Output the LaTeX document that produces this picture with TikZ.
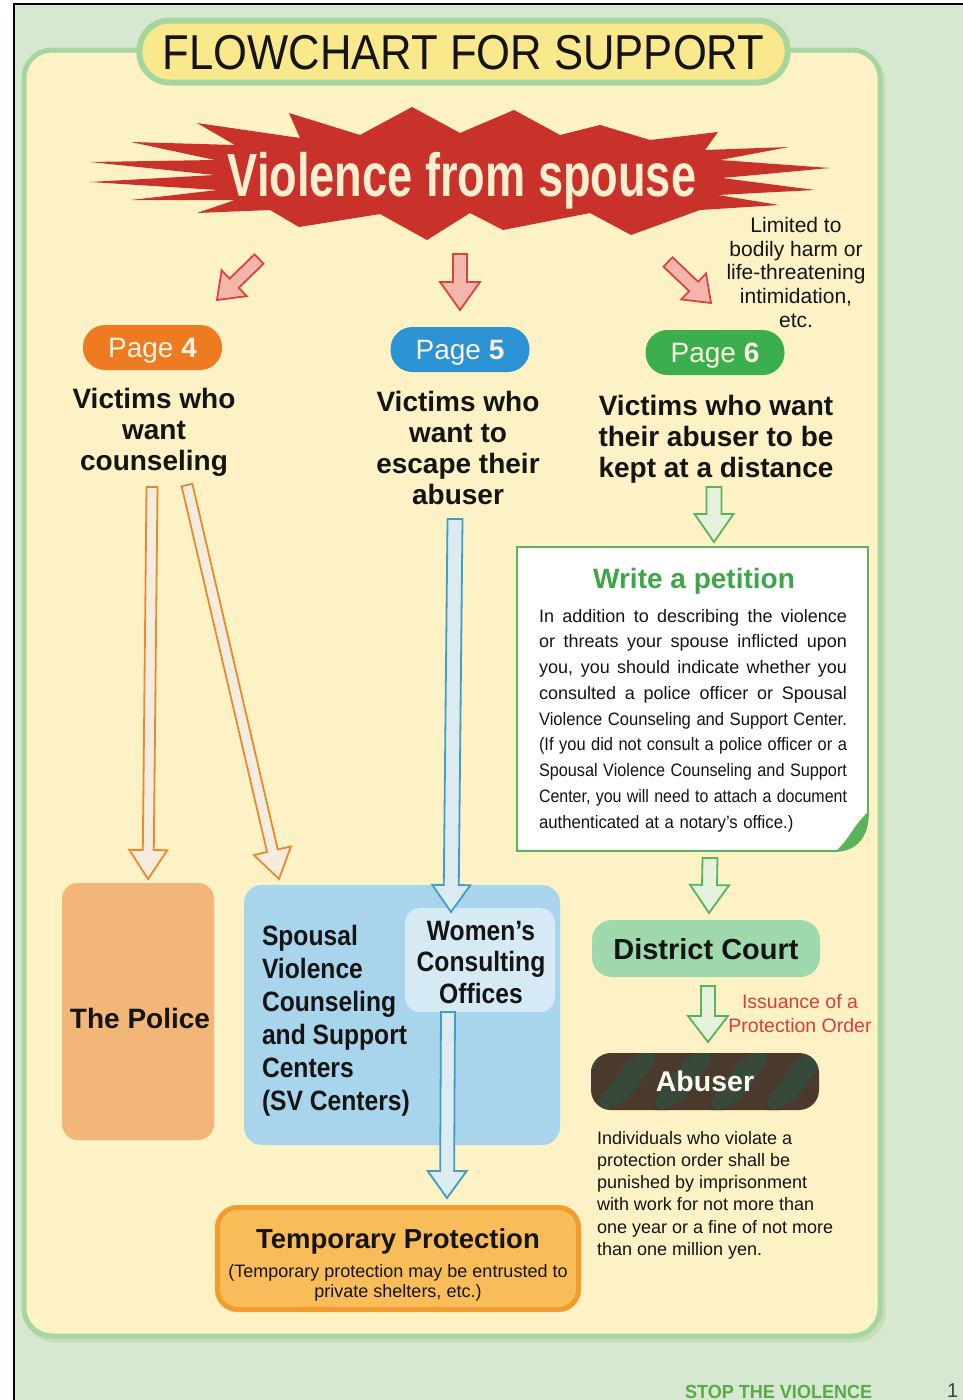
\documentclass[tikz,border=0pt]{standalone}
\usepackage{fontspec}
\usepackage{graphicx}
\setmainfont{Liberation Sans}
\newfontfamily\condfont[FakeStretch=0.88]{Liberation Sans}
\usetikzlibrary{calc}

\definecolor{pagebg}{HTML}{D7E8D1}
\definecolor{panelbg}{HTML}{FCF2C5}
\definecolor{panelline}{HTML}{A6D59E}
\definecolor{panelshadow}{HTML}{C4DEBA}
\definecolor{titlebg}{HTML}{FAE98C}
\definecolor{burst}{HTML}{C9312B}
\definecolor{bursttext}{HTML}{FCEFCF}
\definecolor{pinkfill}{HTML}{F2B6AB}
\definecolor{pinkline}{HTML}{D9463F}
\definecolor{pfour}{HTML}{EE7B22}
\definecolor{pfive}{HTML}{2B93D3}
\definecolor{psix}{HTML}{3BAF4E}
\definecolor{pilltext}{HTML}{FDF3E2}
\definecolor{orline}{HTML}{E98A2C}
\definecolor{orfill}{HTML}{F4ECDF}
\definecolor{blline}{HTML}{3F9DC6}
\definecolor{blfill}{HTML}{DCEBF0}
\definecolor{grline}{HTML}{58B45A}
\definecolor{grfill}{HTML}{E6F1DC}
\definecolor{police}{HTML}{F2B679}
\definecolor{svblue}{HTML}{A9D5EC}
\definecolor{women}{HTML}{D5EAF4}
\definecolor{tempfill}{HTML}{F8BC58}
\definecolor{templine}{HTML}{F29C2F}
\definecolor{court}{HTML}{9ED8AC}
\definecolor{abuserA}{HTML}{4A3A2B}
\definecolor{abuserB}{HTML}{36493A}
\definecolor{petgreen}{HTML}{3DA647}
\definecolor{issred}{HTML}{E2393A}
\definecolor{footgreen}{HTML}{5AAA49}
\definecolor{ink}{HTML}{141414}

\newlength\jlw
\newcommand\jline[2][308pt]{\leavevmode\settowidth\jlw{#2}\ifdim\jlw<#1\relax
  \hbox to #1{\spaceskip=\fontdimen2\font plus 1fil\relax #2}\else\resizebox{#1}{\height}{#2}\fi}

% block arrow: style, start, tip, shaft half width, head half width, head length
\newcommand\barrow[6]{%
  \coordinate (bh) at ($(#3)!#6!(#2)$);
  \path[#1] ($(#2)!#4!-90:(#3)$) -- ($(bh)!#4!90:(#2)$) -- ($(bh)!#5!90:(#2)$) -- (#3)
    -- ($(bh)!#5!-90:(#2)$) -- ($(bh)!#4!-90:(#2)$) -- ($(#2)!#4!90:(#3)$) -- cycle;}

\tikzset{
  txt/.style={inner sep=0pt, outer sep=0pt, text=ink},
  head/.style={txt, align=center, font=\fontsize{28}{31}\selectfont\bfseries},
  pill/.style={rounded corners=22, minimum width=139, minimum height=45, inner sep=0pt,
     text=pilltext, font=\fontsize{28}{28}\selectfont, text height=20pt, text depth=0pt},
  pinkarrow/.style={fill=pinkfill, draw=pinkline, line width=1.8, line join=miter},
  orarrow/.style={fill=orfill, draw=orline, line width=1.8, line join=miter},
  blarrow/.style={fill=blfill, draw=blline, line width=1.8, line join=miter},
  grarrow/.style={fill=grfill, draw=grline, line width=1.8, line join=miter},
  boxtxt/.style={txt, font=\fontsize{28}{28}\selectfont\bfseries, text height=20pt, text depth=0pt},
}

\begin{document}
\begin{tikzpicture}[x=1pt,y=-1pt]
\useasboundingbox (0,0) rectangle (963,1400);
% page
\fill[white] (0,0) rectangle (963,1400);
\fill[pagebg] (14,4) rectangle (963,1400);
\draw[line width=1.5] (14,1400) -- (14,4) -- (963,4);
% panel
\draw[panelshadow, line width=5, rounded corners=28] (27,54) rectangle (883,1340);
\draw[panelline, line width=5, fill=panelbg, rounded corners=28] (24,50) rectangle (880,1336);

% title
\node[fill=titlebg, draw=panelline, line width=6, rounded corners=30, minimum width=648, minimum height=62,
      inner sep=0pt, text height=35pt, text depth=0pt, font=\fontsize{49}{49}\selectfont, text=ink]
  (title) at (463.5,51.5) {\scalebox{0.89}[1]{FLOWCHART FOR SUPPORT}};

% starburst
\fill[burst] (90,162) -- (215,160) -- (131,142) -- (235,145) -- (197,123) -- (300,138) -- (289,113)
  -- (360,135) -- (412,107) -- (460,133) -- (514,110) -- (560,135) -- (600,125) -- (650,140)
  -- (718,132) -- (705,150) -- (789,147) -- (720,160) -- (830,168) -- (722,178) -- (815,190)
  -- (718,195) -- (779,205) -- (700,210) -- (631,235) -- (590,213) -- (503,230) -- (470,213)
  -- (427,240) -- (380,214) -- (299,227) -- (270,210) -- (197,213) -- (235,200) -- (131,200)
  -- (218,190) -- (90,182) -- (215,175) -- cycle;
\node[txt, anchor=base, text=bursttext, font=\fontsize{61}{61}\selectfont\bfseries] (burst) at (462,196)
  {\scalebox{0.74}[1]{Violence from spouse}};

\node[txt, anchor=north, align=center, font=\fontsize{21}{23.8}\selectfont] (limit) at (796,217)
  {Limited to\\bodily harm or\\life-threatening\\intimidation,\\etc.};

% pink arrows
\coordinate (pa1) at (259,259); \coordinate (pb1) at (217,300);
\coordinate (pa2) at (460,254); \coordinate (pb2) at (460,310);
\coordinate (pa3) at (668,262); \coordinate (pb3) at (711,303);
\barrow{pinkarrow}{pa1}{pb1}{6.5pt}{18pt}{24pt}
\barrow{pinkarrow}{pa2}{pb2}{7pt}{20pt}{28pt}
\barrow{pinkarrow}{pa3}{pb3}{6.5pt}{18pt}{24pt}

% page pills
\node[pill, fill=pfour] (p4) at (152.5,347.5) {Page \textbf{4}};
\node[pill, fill=pfive] (p5) at (460,349.5) {Page \textbf{5}};
\node[pill, fill=psix] (p6) at (715,352.5) {Page \textbf{6}};

% headings
\node[head, anchor=north] (h4) at (154,388) {Victims who\\want\\counseling};
\node[head, anchor=north] (h5) at (458,391) {Victims who\\want to\\escape their\\abuser};
\node[head, anchor=north] (h6) at (716,395) {Victims who want\\their abuser to be\\kept at a distance};

% petition box
\path[fill=white, draw=grline, line width=1.8] (517,547) -- (868,547) -- (868,812)
   .. controls (868,835) and (858,850) .. (836,851) -- (517,851) -- cycle;
\fill[grline] (868,812) .. controls (868,835) and (858,850) .. (836,851)
   .. controls (848,841) and (853,826) .. (868,812) -- cycle;
\node[txt, anchor=base, text=petgreen, font=\fontsize{28}{28}\selectfont\bfseries] (pettitle) at (694,588) {Write a petition};
\node[txt, anchor=north west, text width=308pt, align=left, font=\fontsize{18}{25.75}\selectfont] (petbody) at (539,609)
 {\jline{In addition to describing the violence}\\
  \jline{or threats your spouse inflicted upon}\\
  \jline{you, you should indicate whether you}\\
  \jline{consulted a police officer or Spousal}\\
  \jline{Violence Counseling and Support Center.}\\
  \jline{(If you did not consult a police officer or a}\\
  \jline{Spousal Violence Counseling and Support}\\
  \jline{Center, you will need to attach a document}\\
  \scalebox{0.93}[1]{authenticated at a notary’s office.)}};

% green arrow to petition
\coordinate (ga1) at (714,487); \coordinate (gb1) at (714,542);
\barrow{grarrow}{ga1}{gb1}{7.5pt}{19.5pt}{28pt}

% bottom-left boxes
\node[fill=police, rounded corners=16, minimum width=152, minimum height=257, inner sep=0pt] (police) at (138,1011.5) {};
\node[boxtxt] (policetxt) at (140,1018) {The Police};
\node[fill=svblue, rounded corners=18, minimum width=316, minimum height=260, inner sep=0pt] (sv) at (402,1015) {};
\node[fill=women, rounded corners=15, minimum width=150, minimum height=104, inner sep=0pt] (women) at (480,960) {};
\node[txt, anchor=north west, align=left, font=\fontsize{28}{33}\selectfont\condfont\bfseries] (svtxt) at (262,925)
  {Spousal\\Violence\\Counseling\\and Support\\Centers\\(SV Centers)};
\node[txt, anchor=north, align=center, font=\fontsize{28}{31.5}\selectfont\condfont\bfseries] (womentxt) at (481,921)
  {Women’s\\Consulting\\Offices};

% orange arrows
\coordinate (oa1) at (152,487); \coordinate (ob1) at (148,879);
\coordinate (oa2) at (187,485); \coordinate (ob2) at (279,879);
\barrow{orarrow}{oa1}{ob1}{5.5pt}{19pt}{29pt}
\barrow{orarrow}{oa2}{ob2}{5.5pt}{19pt}{29pt}

% blue arrows
\coordinate (ba1) at (455,519); \coordinate (bb1) at (451,912);
\barrow{blarrow}{ba1}{bb1}{7.5pt}{19pt}{27pt}
\coordinate (ba2) at (448,1012); \coordinate (bb2) at (447,1198);
\barrow{blarrow}{ba2}{bb2}{7pt}{19.5pt}{27pt}

% temporary protection
\node[fill=tempfill, draw=templine, line width=5, rounded corners=20, minimum width=361, minimum height=102, inner sep=0pt]
  (temp) at (398,1258.5) {};
\node[txt, anchor=base, font=\fontsize{27.5}{27.5}\selectfont\bfseries] (temptitle) at (398,1248) {Temporary Protection};
\node[txt, anchor=north, align=center, font=\fontsize{18}{20}\selectfont] (tempsub) at (398,1264)
  {(Temporary protection may be entrusted to\\private shelters, etc.)};

% right column
\coordinate (ga2) at (710,858); \coordinate (gb2) at (709,913);
\barrow{grarrow}{ga2}{gb2}{7.5pt}{19.5pt}{28pt}
\node[fill=court, rounded corners=20, minimum width=228, minimum height=57, inner sep=0pt,
      font=\fontsize{29}{29}\selectfont\bfseries, text=ink, text height=21pt, text depth=0pt] (court) at (706,948.5) {District Court};
\coordinate (ga3) at (708,986); \coordinate (gb3) at (708,1042);
\barrow{grarrow}{ga3}{gb3}{7pt}{20pt}{26pt}
\node[txt, anchor=north, align=center, text=issred, font=\fontsize{19.5}{24}\selectfont] (issue) at (800,994)
  {Issuance of a\\Protection Order};
\node[fill=abuserA, rounded corners=20, minimum width=228, minimum height=57, inner sep=0pt,
      font=\fontsize{28.5}{28.5}\selectfont\bfseries, text=white!95!yellow, text height=20.5pt, text depth=0pt,
      path picture={\foreach \i in {-8,...,8} {\fill[abuserB]
         ($(path picture bounding box.south west)+(\i*56,0)$) -- ++(28,0) -- ++(45,-60) -- ++(-28,0) -- cycle;}}]
  (abuser) at (705,1081.5) {Abuser};
\node[txt, anchor=north west, align=left, font=\fontsize{18}{22.3}\selectfont] (penalty) at (597,1131)
  {Individuals who violate a\\protection order shall be\\punished by imprisonment\\with work for not more than\\one year or a fine of not more\\than one million yen.};

% footer
\node[txt, anchor=base west, text=footgreen, font=\fontsize{19}{19}\selectfont\bfseries] (footer) at (685,1398)
  {\scalebox{0.95}[1]{STOP THE VIOLENCE}};
\node[txt, anchor=base west, text=black!75, font=\fontsize{20}{20}\selectfont] (pageno) at (947,1397) {1};
\end{tikzpicture}
\end{document}
